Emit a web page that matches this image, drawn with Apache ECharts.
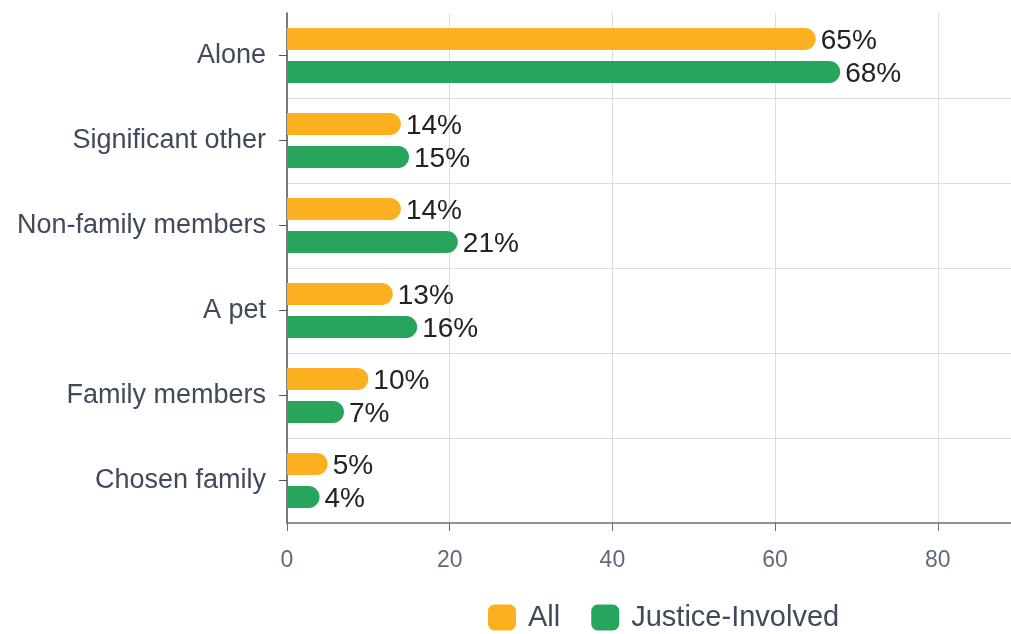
<!DOCTYPE html>
<html>
<head>
<meta charset="utf-8">
<script src="https://cdn.jsdelivr.net/npm/echarts@6/dist/echarts.min.js"></script>
<style>
html,body{margin:0;padding:0;background:#fff;}
#main{width:1011px;height:634px;}
</style>
</head>
<body>
<div id="main"></div>
<script>
const categories = ["Alone", "Significant other", "Non-family members", "A pet", "Family members", "Chosen family"];
const allValues = [65, 14, 14, 13, 10, 5];
const justiceValues = [68, 15, 21, 16, 7, 4];
const seriesNames = ["All", "Justice-Involved"];
const xTicks = [0, 20, 40, 60, 80];

const FONT = "'Liberation Sans', Arial, Helvetica, sans-serif";
const chart = echarts.init(document.getElementById('main'), null, {renderer: 'canvas'});

function barSeries(name, data, color) {
  return {
    name: name,
    type: 'bar',
    data: data,
    barWidth: 22,
    barGap: '50%',
    itemStyle: {color: color, borderRadius: [0, 11, 11, 0]},
    label: {
      show: true,
      position: 'right',
      distance: 5,
      offset: [0, 2],
      formatter: '{c}%',
      color: '#222222',
      fontSize: 28,
      fontFamily: FONT
    },
    emphasis: {disabled: true},
    animation: false
  };
}

chart.setOption({
  animation: false,
  backgroundColor: '#ffffff',
  textStyle: {fontFamily: FONT},
  grid: {left: 287, right: 0, top: 13, bottom: 111},
  legend: {
    data: seriesNames,
    left: 488,
    top: 603,
    padding: 0,
    itemWidth: 28,
    itemHeight: 26,
    itemGap: 31,
    icon: 'roundRect',
    textStyle: {fontSize: 29, color: '#3f4a5a', fontFamily: FONT, padding: [0, 0, 0, 7]}
  },
  xAxis: {
    type: 'value',
    min: 0,
    max: 89,
    interval: 20,
    axisLine: {show: true, lineStyle: {color: '#6e6e6e', width: 1.5}},
    axisTick: {show: true, length: 8, lineStyle: {color: '#6e6e6e'}},
    axisLabel: {
      showMaxLabel: false,
      margin: 26,
      fontSize: 23,
      color: '#5f6b7a',
      fontFamily: FONT,
      formatter: function (v) { return xTicks.indexOf(v) >= 0 ? String(v) : ''; }
    },
    splitLine: {show: true, lineStyle: {color: '#dcdcdc', width: 1}}
  },
  yAxis: {
    type: 'category',
    inverse: true,
    data: categories,
    axisLine: {show: true, lineStyle: {color: '#555555', width: 1.5}},
    axisTick: {show: true, alignWithLabel: true, length: 8, lineStyle: {color: '#555555'}},
    axisLabel: {fontSize: 27, color: '#3f4a5a', margin: 21, fontFamily: FONT, padding: [6, 0, 0, 0]},
    splitLine: {show: true, showMinLine: false, showMaxLine: false, lineStyle: {color: '#dcdcdc', width: 1}}
  },
  series: [
    barSeries(seriesNames[0], allValues, '#fbb11f'),
    barSeries(seriesNames[1], justiceValues, '#28a55c')
  ]
});
</script>
</body>
</html>
